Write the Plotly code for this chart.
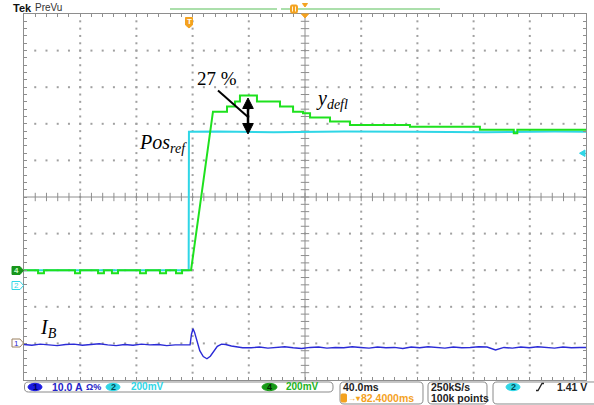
import plotly.graph_objects as go

# ---------------- data ----------------
# time in ms relative to the trigger, amplitude in screen divisions from the centre line
green_t = [-117.6, -107.6, -107.6, -103.4, -103.4, -81.3, -81.3, -77.7, -77.7, -64.9,
           -64.9, -60.7, -60.7, -55.0, -55.0, -50.7, -50.7, -35.0, -35.0, -30.8,
           -30.8, -20.8, -20.8, -16.5, -16.5, -9.4, -9.4, -5.1, -5.1, 1.3,
           16.9, 26.9, 26.9, 32.6, 32.6, 36.1, 36.1, 48.2, 48.2, 64.6,
           64.6, 73.9, 73.9, 81.0, 81.0, 86.0, 86.0, 100.2, 100.2, 114.4,
           114.4, 157.1, 157.1, 206.9, 206.9, 231.0, 231.0, 233.5, 233.5, 282.4]
green_y = [-2.0, -2.0, -2.08, -2.08, -2.0, -2.0, -2.08, -2.08, -2.0, -2.0,
           -2.08, -2.08, -2.0, -2.0, -2.08, -2.08, -2.0, -2.0, -2.08, -2.08,
           -2.0, -2.0, -2.08, -2.08, -2.0, -2.0, -2.08, -2.08, -2.0, -2.0,
           2.33, 2.33, 2.47, 2.47, 2.61, 2.61, 2.77, 2.77, 2.61, 2.61,
           2.47, 2.47, 2.33, 2.33, 2.29, 2.29, 2.17, 2.17, 2.06, 2.06,
           1.97, 1.97, 1.92, 1.92, 1.84, 1.84, 1.74, 1.74, 1.84, 1.84]

cyan_t = [-117.6, -0.4, -0.2, 20.0, 60.0, 110.0, 160.0, 210.0, 260.0, 282.4]
cyan_y = [-2.0, -2.0, 1.78, 1.79, 1.77, 1.79, 1.78, 1.77, 1.79, 1.78]

blue_t = [-117.6, -112, -106, -100, -94, -88, -82, -76, -70, -64,
          -58, -52, -46, -40, -34, -28, -22, -16, -10, -4, 0.0,
          0.6, 1.6, 2.7, 3.8, 5.5, 7.5, 10.0, 12.6, 15.0, 17.5,
          20.0, 23.0, 26.0, 30.0, 34.0, 38.0,
          44, 50, 56, 62, 68, 74, 80, 86, 92, 98,
          104, 110, 116, 122, 128, 134, 140, 146, 152, 158,
          164, 170, 176, 182, 188, 194, 200, 206, 212, 218,
          224, 230, 236, 242, 248, 254, 260, 266, 272, 278, 282.4]
blue_y = [-4.03, -4.05, -4.02, -4.04, -4.06, -4.03, -4.02, -4.05, -4.04, -4.01,
          -4.04, -4.06, -4.03, -4.05, -4.02, -4.04, -4.03, -4.06, -4.04, -4.03, -4.04,
          -4.04, -3.75, -3.60, -3.70, -3.95, -4.20, -4.36, -4.42, -4.35, -4.20,
          -4.08, -4.02, -4.03, -4.07, -4.10, -4.12,
          -4.12, -4.10, -4.13, -4.11, -4.09, -4.12, -4.14, -4.11, -4.10, -4.13,
          -4.11, -4.12, -4.09, -4.11, -4.13, -4.10, -4.12, -4.11, -4.14, -4.10,
          -4.12, -4.09, -4.11, -4.13, -4.10, -4.12, -4.11, -4.09, -4.10, -4.18,
          -4.11, -4.13, -4.10, -4.12, -4.09, -4.11, -4.13, -4.10, -4.12, -4.11, -4.11]

# screen settings
t_start, t_end = -117.6, 282.4      # 10 div x 40 ms
t_center = 82.4                     # horizontal position readout
y_lo, y_hi = -5.0, 5.0

status_ch1 = "10.0 A"
status_ch1_sym = "Ω%"
status_ch2 = "200mV"
status_ch4 = "200mV"
status_time = "40.0ms"
status_pos = "82.4000ms"
status_rate = "250kS/s"
status_points = "100k points"
status_trig = "1.41 V"

GREEN = "#1ee11e"
CYAN = "#2fd6e6"
BLUE = "#2b2bd6"
GRID = "#8e8e8e"
ORANGE = "#f4a21f"

# ---------------- geometry helpers (pixel -> paper) ----------------
L, R, T, B = 24, 586, 14, 380


def px(x):
    return (x - L) / (R - L)


def py(y):
    return (B - y) / (B - T)


def pt(x, y):
    return f"{px(x):.5f},{py(y):.5f}"


shapes = []
annotations = []


def rrect(x0, y0, x1, y1, r=4, color="#8a8a8a", fill=None, width=1):
    path = (f"M {pt(x0 + r, y0)} L {pt(x1 - r, y0)} Q {pt(x1, y0)} {pt(x1, y0 + r)} "
            f"L {pt(x1, y1 - r)} Q {pt(x1, y1)} {pt(x1 - r, y1)} L {pt(x0 + r, y1)} "
            f"Q {pt(x0, y1)} {pt(x0, y1 - r)} L {pt(x0, y0 + r)} Q {pt(x0, y0)} {pt(x0 + r, y0)} Z")
    shapes.append(dict(type="path", xref="paper", yref="paper", path=path,
                       line=dict(color=color, width=width), fillcolor=fill or "rgba(0,0,0,0)"))


def poly(points, fill, line=None, width=1):
    path = "M " + " L ".join(pt(a, b) for a, b in points) + " Z"
    shapes.append(dict(type="path", xref="paper", yref="paper", path=path,
                       line=dict(color=line or fill, width=width), fillcolor=fill))


def seg(x0, y0, x1, y1, color, width=1):
    shapes.append(dict(type="line", xref="paper", yref="paper", x0=px(x0), y0=py(y0),
                       x1=px(x1), y1=py(y1), line=dict(color=color, width=width)))


def ellipse(x0, y0, x1, y1, fill):
    shapes.append(dict(type="circle", xref="paper", yref="paper", x0=px(x0), y0=py(y0),
                       x1=px(x1), y1=py(y1), line=dict(color=fill, width=1), fillcolor=fill))


def txt(s, x, y, size, color="#222222", anchor="left", family="Liberation Sans"):
    annotations.append(dict(text=s, x=px(x), y=py(y), xref="paper", yref="paper",
                            xanchor=anchor, yanchor="middle", showarrow=False,
                            font=dict(size=size, color=color, family=family)))


# ---------------- figure ----------------
fig = go.Figure()

# dotted graticule
gx, gy = [], []
for k in range(1, 10):
    if k == 5:
        continue
    xk = t_start + 40 * k
    for j in range(1, 50):
        gx.append(xk)
        gy.append(y_lo + 0.2 * j)
    yk = y_lo + k
    for j in range(1, 50):
        gx.append(t_start + 8 * j)
        gy.append(yk)
fig.add_trace(go.Scatter(x=gx, y=gy, mode="markers", hoverinfo="skip",
                         marker=dict(symbol="square", size=2, color="#a0a0a0", line=dict(width=0))))

# centre cross with minor ticks
fig.add_trace(go.Scatter(x=[t_start + 8 * j for j in range(1, 50)], y=[0] * 49, mode="markers",
                         hoverinfo="skip",
                         marker=dict(symbol="line-ns", size=6, line=dict(color=GRID, width=1))))
fig.add_trace(go.Scatter(x=[t_center] * 49, y=[y_lo + 0.2 * j for j in range(1, 50)], mode="markers",
                         hoverinfo="skip",
                         marker=dict(symbol="line-ew", size=6, line=dict(color=GRID, width=1))))
shapes.append(dict(type="line", xref="x", yref="y", x0=t_start, x1=t_end, y0=0, y1=0,
                   line=dict(color=GRID, width=1), layer="below"))
shapes.append(dict(type="line", xref="x", yref="y", x0=t_center, x1=t_center, y0=y_lo, y1=y_hi,
                   line=dict(color=GRID, width=1), layer="below"))

# waveforms
fig.add_trace(go.Scatter(x=blue_t, y=blue_y, mode="lines", line=dict(color=BLUE, width=1.4),
                         hoverinfo="skip"))
fig.add_trace(go.Scatter(x=cyan_t, y=cyan_y, mode="lines", line=dict(color=CYAN, width=2),
                         hoverinfo="skip"))
fig.add_trace(go.Scatter(x=green_t, y=green_y, mode="lines", line=dict(color=GREEN, width=2),
                         hoverinfo="skip"))

# ---------------- decorations ----------------
# header
txt("<b>Tek</b>", 11, 8, 11, "#111111")
txt("PreVu", 33, 8, 10, "#333333")
seg(170, 9, 277, 9, "#8fd48f", 1.6)
seg(281, 9, 440, 9, "#8fd48f", 1.6)
rrect(290.5, 5, 297.5, 13, r=1.5, color=ORANGE, fill=ORANGE)
seg(292.5, 6.5, 292.5, 11.5, "#fff3d6", 1)
seg(295.5, 6.5, 295.5, 11.5, "#fff3d6", 1)
poly([(302.5, 3.5), (307.5, 3.5), (305, 7)], ORANGE)
poly([(301.5, 14), (308.5, 14), (305, 18)], ORANGE)

# trigger position marker
poly([(185.5, 17.5), (192.5, 17.5), (192.5, 25), (189, 28), (185.5, 25)], ORANGE)
txt("<b>T</b>", 189, 21.5, 8, "#ffffff", anchor="center")

# channel ground markers
poly([(12, 266.5), (20, 266.5), (23.5, 270.5), (20, 274.5), (12, 274.5)], "#17951a")
txt("<b>4</b>", 16, 270.5, 8, "#c8ffc8", anchor="center")
poly([(12, 281.5), (20, 281.5), (23.5, 285.5), (20, 289.5), (12, 289.5)], "#ffffff", CYAN)
txt("2", 16, 285.5, 8, CYAN, anchor="center")
poly([(12, 339), (20, 339), (23.5, 343), (20, 347), (12, 347)], "#ffffff", "#9a8060")
txt("1", 16, 343, 8, BLUE, anchor="center")
poly([(585, 150), (585, 156.5), (579.5, 153.25)], CYAN)

# text annotations
txt("27 %", 217, 78, 19, "#000000", anchor="center", family="Liberation Serif")
txt("<i>y<sub>defl</sub></i>", 314, 99, 20, "#000000", family="Liberation Serif")
txt("<i>Pos<sub>ref</sub></i>", 137, 144, 20, "#000000", family="Liberation Serif")
txt("<i>I<sub>B</sub></i>", 38, 328, 20, "#000000", family="Liberation Serif")

# 27 % pointer and double arrow
seg(218, 90.5, 248, 117, "#000000", 2)
seg(248, 104, 248, 128, "#000000", 2.5)
poly([(248, 98), (253.3, 108.5), (242.7, 108.5)], "#000000")
poly([(248, 134), (253.3, 123.5), (242.7, 123.5)], "#000000")

# status bar
rrect(24.5, 382, 333, 392, r=4)
ellipse(28, 383.3, 42, 390.7, "#1a1ae0")
txt("<b>1</b>", 35, 387, 9, "#000060", anchor="center")
txt("<b>" + status_ch1 + "</b>", 50, 387, 10.5, "#2323c8")
txt("<b>" + status_ch1_sym + "</b>", 84, 387, 9, "#2323c8")
ellipse(106, 383.3, 120, 390.7, CYAN)
txt("<b>2</b>", 113, 387, 9, "#004a55", anchor="center")
txt("<b>" + status_ch2 + "</b>", 129, 387, 10, CYAN)
ellipse(262, 383.3, 277, 390.7, "#169a16")
txt("<b>4</b>", 269.5, 387, 9, "#002800", anchor="center")
txt("<b>" + status_ch4 + "</b>", 284, 387, 10, "#22b322")

rrect(340, 382, 423, 404, r=4)
txt("<b>" + status_time + "</b>", 341, 387, 10.5, "#222222")
rrect(341, 394, 346.5, 402, r=1, color=ORANGE, fill=ORANGE)
txt("<b>→▾</b>", 345.5, 398, 8, ORANGE)
txt("<b>" + status_pos + "</b>", 359, 398, 10.5, ORANGE)

rrect(428, 382, 487, 404, r=4)
txt("<b>" + status_rate + "</b>", 429, 387, 10.5, "#222222")
txt("<b>" + status_points + "</b>", 429, 398, 10.5, "#222222")

rrect(493, 382, 600, 404, r=4)
ellipse(506, 383.3, 520, 390.7, CYAN)
txt("<b>2</b>", 513, 387, 9, "#004a55", anchor="center")
shapes.append(dict(type="path", xref="paper", yref="paper",
                   path=f"M {pt(536, 390.5)} L {pt(538, 390.5)} L {pt(542, 383.5)} L {pt(544, 383.5)}",
                   line=dict(color="#222222", width=1.3)))
txt("<b>" + status_trig + "</b>", 555, 387, 10.5, "#222222")

# ---------------- layout ----------------
axis_common = dict(showgrid=False, zeroline=False, showline=True, linecolor=GRID, linewidth=1,
                   mirror="allticks", ticks="inside", ticklen=3, tickcolor=GRID, tickwidth=1,
                   showticklabels=False, tickmode="linear", fixedrange=True)
fig.update_layout(
    width=594, height=405, autosize=False,
    margin=dict(l=L, r=594 - R, t=T, b=405 - B, pad=0),
    paper_bgcolor="white", plot_bgcolor="white", showlegend=False,
    xaxis=dict(range=[t_start, t_end], tick0=t_center, dtick=8, **axis_common),
    yaxis=dict(range=[y_lo, y_hi], tick0=0, dtick=0.2, **axis_common),
    shapes=shapes, annotations=annotations,
)

fig.write_html("out.html", config={"displayModeBar": False},
               post_script="document.body.style.margin='0';")
